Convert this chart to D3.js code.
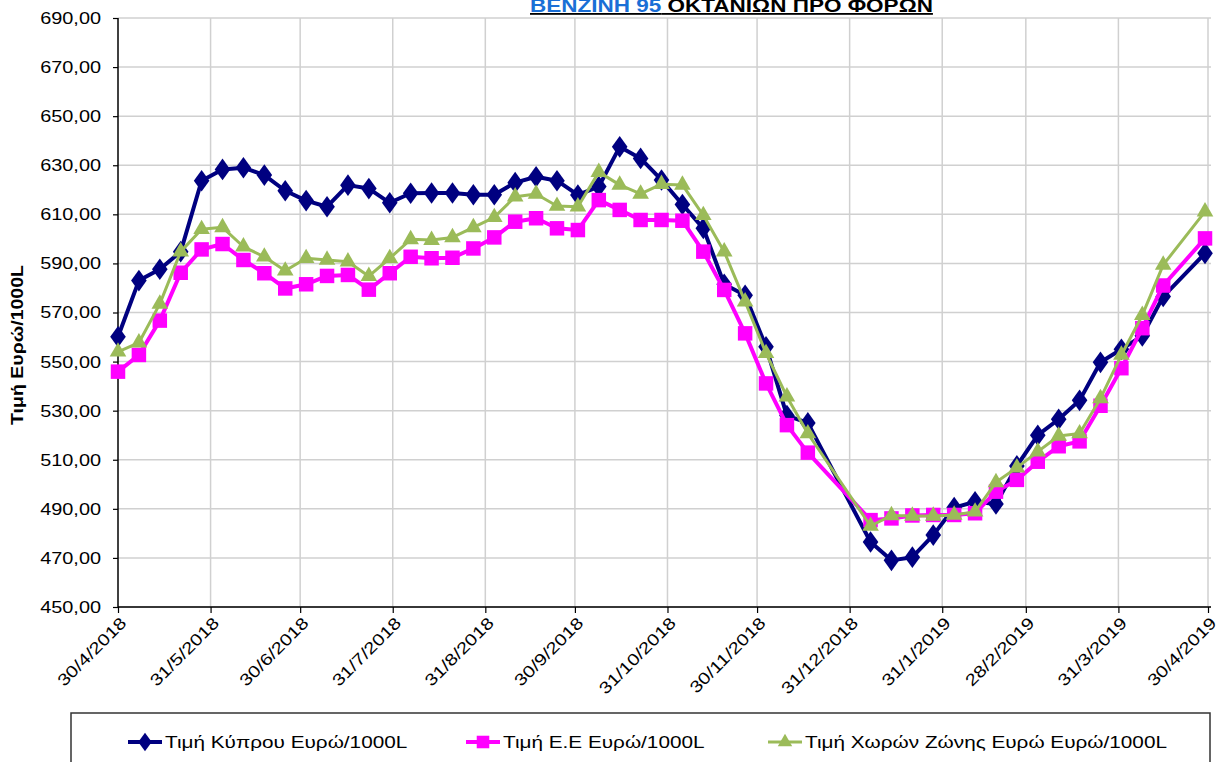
<!DOCTYPE html>
<html>
<head>
<meta charset="utf-8">
<script src="https://cdn.jsdelivr.net/npm/d3@7"></script>
<style>
  body { margin: 0; background: #fff; }
  svg { display: block; font-family: Arial, "Liberation Sans", sans-serif; }
</style>
</head>
<body>
<div class="chart"></div>
<script>
// Weekly dates (d/m/yyyy); 24/12, 31/12 and 22/4 have no data
var dates = ["30/4/2018","7/5/2018","14/5/2018","21/5/2018","28/5/2018","4/6/2018","11/6/2018",
  "18/6/2018","25/6/2018","2/7/2018","9/7/2018","16/7/2018","23/7/2018","30/7/2018","6/8/2018",
  "13/8/2018","20/8/2018","27/8/2018","3/9/2018","10/9/2018","17/9/2018","24/9/2018","1/10/2018",
  "8/10/2018","15/10/2018","22/10/2018","29/10/2018","5/11/2018","12/11/2018","19/11/2018",
  "26/11/2018","3/12/2018","10/12/2018","17/12/2018","7/1/2019","14/1/2019","21/1/2019",
  "28/1/2019","4/2/2019","11/2/2019","18/2/2019","25/2/2019","4/3/2019","11/3/2019","18/3/2019",
  "25/3/2019","1/4/2019","8/4/2019","15/4/2019","29/4/2019"];

var cyprus = [560.1,583.0,587.6,594.8,623.7,628.3,629.0,626.0,619.6,615.6,613.1,621.9,620.5,614.7,
  618.6,618.7,618.7,618.0,618.0,622.9,625.3,623.7,617.9,621.3,637.5,632.8,624.0,614.0,604.3,581.5,
  577.0,556.0,528.0,525.0,476.5,469.0,470.3,479.3,490.5,492.9,492.0,507.5,520.0,526.5,534.2,
  549.7,555.0,560.5,576.5,594.1];

var eu = [545.9,552.7,566.7,586.2,595.7,597.9,591.4,586.0,579.8,581.5,584.9,585.3,579.3,586.0,
  592.7,592.1,592.3,596.1,600.6,607.0,608.4,604.3,603.6,615.8,611.8,607.7,607.7,607.4,594.8,579.2,
  561.5,541.1,524.1,512.9,485.4,486.1,487.3,487.5,487.5,488.2,497.0,501.8,509.2,515.5,517.5,
  532.0,547.3,563.6,581.0,600.2];

var euroZone = [554.0,557.7,573.5,594.8,603.9,604.7,596.8,592.7,587.0,592.1,591.4,590.7,584.8,592.1,
  599.8,599.5,600.6,604.7,608.8,617.2,618.3,613.4,613.1,627.2,622.0,618.3,622.3,622.0,609.6,594.8,
  574.4,553.4,535.7,520.7,483.0,487.3,487.1,487.1,487.5,488.8,500.8,506.8,513.3,519.7,520.7,
  535.0,552.7,568.9,589.4,611.1];

var xTickLabels = ["30/4/2018","31/5/2018","30/6/2018","31/7/2018","31/8/2018","30/9/2018",
  "31/10/2018","30/11/2018","31/12/2018","31/1/2019","28/2/2019","31/3/2019","30/4/2019"];
var yTicks = [450,470,490,510,530,550,570,590,610,630,650,670,690];

var seriesNames = ["Τιμή Κύπρου Ευρώ/1000L", "Τιμή Ε.Ε Ευρώ/1000L", "Τιμή Χωρών Ζώνης Ευρώ Ευρώ/1000L"];

// Configuration
var width = 1217;
var height = 762;
var plotLeft = 118, plotRight = 1208, plotTop = 18, plotBottom = 607;
var stretchX = 1.22; // the original picture is wider than tall

var parseDate = d3.timeParse("%d/%m/%Y");
var fmtDate = function(d) { return d.getDate() + "/" + (d.getMonth() + 1) + "/" + d.getFullYear(); };
var fmtVal = function(v) { return d3.format(".2f")(v).replace(".", ","); };

// widen text glyphs like the source image
function stretch(sel, f) {
  sel.each(function() {
    var w = this.getComputedTextLength();
    d3.select(this).attr("textLength", w * f).attr("lengthAdjust", "spacingAndGlyphs");
  });
}

var svg = d3.select(".chart").append("svg")
    .attr("width", width)
    .attr("height", height);

svg.append("rect").attr("width", width).attr("height", height).attr("fill", "#fff");

var x = d3.scaleTime()
    .domain([parseDate("30/4/2018"), parseDate("30/4/2019")])
    .range([plotLeft, plotRight]);

var y = d3.scaleLinear()
    .domain([450, 690])
    .range([plotBottom, plotTop]);

var xTicks = xTickLabels.map(parseDate);

// Gridlines
svg.append("g")
    .selectAll("line")
    .data(yTicks)
    .enter().append("line")
    .attr("x1", plotLeft).attr("x2", plotRight + 3)
    .attr("y1", function(d) { return y(d); })
    .attr("y2", function(d) { return y(d); })
    .attr("stroke", "#d0d0d0")
    .attr("stroke-width", 1.5);

svg.append("g")
    .selectAll("line")
    .data(xTicks.slice(1))
    .enter().append("line")
    .attr("x1", function(d) { return x(d); })
    .attr("x2", function(d) { return x(d); })
    .attr("y1", plotTop).attr("y2", plotBottom)
    .attr("stroke", "#d0d0d0")
    .attr("stroke-width", 1.5);

// Y axis
var yAxis = svg.append("g")
    .attr("transform", "translate(" + plotLeft + ",0)")
    .call(d3.axisLeft(y).tickValues(yTicks).tickFormat(fmtVal).tickSize(5).tickPadding(12));
yAxis.select(".domain").attr("stroke", "#000").attr("stroke-width", 1.5)
    .attr("d", "M0," + plotTop + "V" + plotBottom);
yAxis.selectAll(".tick line").attr("stroke", "#000").attr("stroke-width", 1.2);
yAxis.selectAll(".tick text")
    .attr("fill", "#000")
    .style("font-size", "17px")
    .style("font-family", "Arial, 'Liberation Sans', sans-serif")
    .call(stretch, 1.17);

// X axis
var xAxis = svg.append("g")
    .attr("transform", "translate(0," + plotBottom + ")")
    .call(d3.axisBottom(x).tickValues(xTicks).tickFormat(fmtDate).tickSize(6));
xAxis.select(".domain").attr("stroke", "#000").attr("stroke-width", 1.5)
    .attr("d", "M" + plotLeft + ",0H" + (plotRight + 3));
xAxis.selectAll(".tick line").attr("stroke", "#000").attr("stroke-width", 1.2);
xAxis.selectAll(".tick text")
    .attr("fill", "#000")
    .attr("text-anchor", "end")
    .attr("x", 0).attr("y", 0).attr("dy", 0)
    .attr("transform", "translate(9,17) rotate(-45)")
    .style("font-size", "16.5px")
    .style("font-family", "Arial, 'Liberation Sans', sans-serif")
    .call(stretch, stretchX);

// Y axis title
svg.append("text")
    .attr("transform", "translate(23,345) rotate(-90)")
    .attr("text-anchor", "middle")
    .style("font-size", "16px")
    .style("font-weight", "bold")
    .text("Τιμή Ευρώ/1000L")
    .call(stretch, stretchX);

// Title (cut at top, as in the source)
var title = svg.append("text")
    .attr("x", 530).attr("y", 12)
    .style("font-size", "18px")
    .style("font-weight", "bold")
    .style("text-decoration", "underline");
title.append("tspan").attr("fill", "#1a6fd6").text("ΒΕΝΖΙΝΗ 95");
title.append("tspan").attr("fill", "#000").text(" ΟΚΤΑΝΙΩΝ ΠΡΟ ΦΟΡΩΝ");
title.call(stretch, 1.25);

// Series
var seriesList = [
  { name: seriesNames[0], values: cyprus, color: "#000080", width: 4, symbol: d3.symbolDiamond, size: 135 },
  { name: seriesNames[1], values: eu, color: "#ff00ff", width: 4, symbol: d3.symbolSquare, size: 210 },
  { name: seriesNames[2], values: euroZone, color: "#9bbb59", width: 3, symbol: d3.symbolTriangle, size: 120 }
];

var parsed = dates.map(parseDate);

var line = d3.line()
    .x(function(d, i) { return x(parsed[i]); })
    .y(function(d) { return y(d); });

seriesList.forEach(function(s) {
  var g = svg.append("g");
  var sx = s.symbol === d3.symbolDiamond ? " scale(1.25,1)" : "";
  g.append("path")
      .attr("d", line(s.values))
      .attr("fill", "none")
      .attr("stroke", s.color)
      .attr("stroke-width", s.width)
      .attr("stroke-linejoin", "round");
  g.selectAll(".m")
      .data(s.values)
      .enter().append("path")
      .attr("class", "m")
      .attr("d", d3.symbol().type(s.symbol).size(s.size))
      .attr("transform", function(d, i) {
        return "translate(" + x(parsed[i]) + "," + y(d) + ")" + sx;
      })
      .attr("fill", s.color);
});

// Legend
svg.append("rect")
    .attr("x", 71).attr("y", 713)
    .attr("width", 1139).attr("height", 60)
    .attr("fill", "#fff")
    .attr("stroke", "#333")
    .attr("stroke-width", 1.5);

var legendX = [128, 466, 768];
seriesList.forEach(function(s, i) {
  var lg = svg.append("g").attr("transform", "translate(" + legendX[i] + ",742)");
  var sx = s.symbol === d3.symbolDiamond ? " scale(1.25,1)" : "";
  lg.append("line")
      .attr("x1", 0).attr("x2", 34)
      .attr("stroke", s.color).attr("stroke-width", s.width);
  lg.append("path")
      .attr("d", d3.symbol().type(s.symbol).size(s.size * 0.75))
      .attr("transform", "translate(17,0)" + sx)
      .attr("fill", s.color);
  lg.append("text")
      .attr("x", 37).attr("dy", "0.35em")
      .style("font-size", "17px")
      .attr("fill", "#000")
      .text(s.name)
      .call(stretch, stretchX);
});
</script>
</body>
</html>
